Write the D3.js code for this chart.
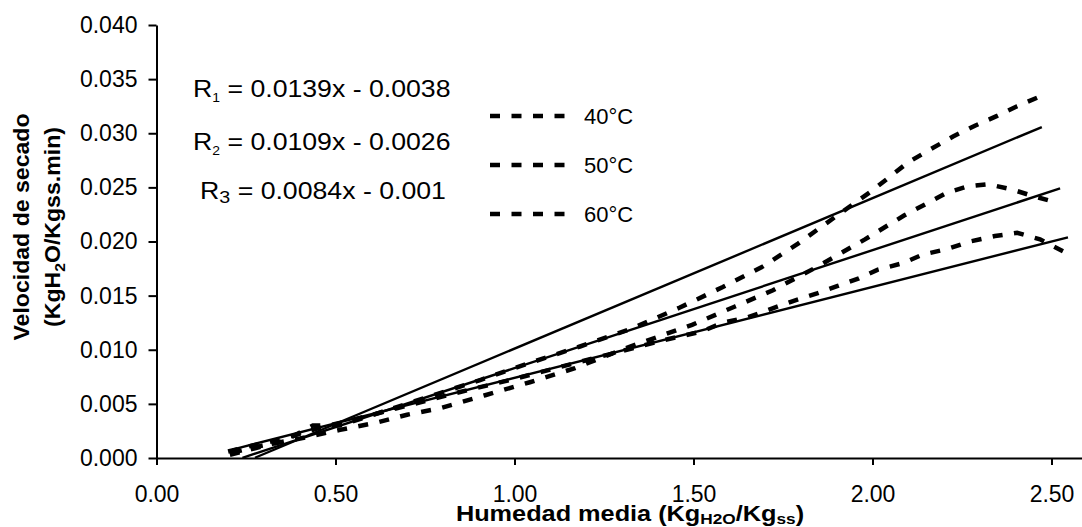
<!DOCTYPE html>
<html>
<head>
<meta charset="utf-8">
<script src="https://cdn.jsdelivr.net/npm/d3@7"></script>
<style>
  body { margin: 0; background: #fff; }
  svg { display: block; font-family: "Liberation Sans", Arial, sans-serif; }
  .axis path, .axis line { stroke: #000; stroke-width: 2; }
  .axis text { font-size: 23px; fill: #000; }
</style>
</head>
<body>
<svg id="chart" width="1082" height="527"></svg>
<script>
// x ticks / y ticks
const xTicks = [0, 0.5, 1.0, 1.5, 2.0, 2.5];
const yTicks = [0, 0.005, 0.01, 0.015, 0.02, 0.025, 0.03, 0.035, 0.04];

// measured drying rate, [humedad media, velocidad]
const serie40 = [
  [0.205, 0.0003], [0.275, 0.0009], [0.359, 0.0016], [0.437, 0.0030], [0.513, 0.0030],
  [0.624, 0.0042], [0.764, 0.0057], [0.904, 0.0072], [1.044, 0.0088], [1.183, 0.0103],
  [1.323, 0.0119], [1.462, 0.0139], [1.582, 0.0158], [1.694, 0.0177], [1.792, 0.0198],
  [1.901, 0.0224], [1.999, 0.0247], [2.099, 0.0273], [2.161, 0.0285], [2.225, 0.0297],
  [2.286, 0.0307], [2.348, 0.0316], [2.404, 0.0325], [2.482, 0.0336]
];
const serie50 = [
  [0.211, 0.0005], [0.289, 0.0011], [0.401, 0.0018], [0.513, 0.0026], [0.619, 0.0033],
  [0.700, 0.0040], [0.792, 0.0046], [0.918, 0.0058], [1.043, 0.0070], [1.169, 0.0083],
  [1.323, 0.0103], [1.496, 0.0123], [1.616, 0.0140], [1.722, 0.0155], [1.842, 0.0176],
  [1.979, 0.0202], [2.088, 0.0224], [2.208, 0.0245], [2.267, 0.0251], [2.323, 0.0253],
  [2.390, 0.0248], [2.448, 0.0242], [2.515, 0.0236]
];
const serie60 = [
  [0.200, 0.0006], [0.261, 0.0011], [0.345, 0.0017], [0.457, 0.0028], [0.568, 0.0037],
  [0.708, 0.0049], [0.848, 0.0061], [0.987, 0.0072], [1.127, 0.0084], [1.267, 0.0096],
  [1.406, 0.0108], [1.524, 0.0117], [1.582, 0.0125], [1.652, 0.0130], [1.719, 0.0138],
  [1.778, 0.0145], [1.845, 0.0152], [1.903, 0.0159], [1.962, 0.0166], [2.015, 0.0174],
  [2.085, 0.0180], [2.141, 0.0188], [2.208, 0.0193], [2.272, 0.0200], [2.342, 0.0205],
  [2.404, 0.0208], [2.468, 0.0202], [2.532, 0.0191]
];

// linear fits: slope, intercept, x range of the fit line
const fitSlopes = [0.0139, 0.0109, 0.0084];
const fitIntercepts = [-0.0038, -0.0026, -0.001];
const fitRanges = [[0.275, 2.473], [0.24, 2.524], [0.212, 2.546]];
const fitLabels = ["0.0139x - 0.0038", "0.0109x - 0.0026", "0.0084x - 0.001"];
const legendLabels = ["40°C", "50°C", "60°C"];

const svg = d3.select("#chart");

const x = d3.scaleLinear().domain([0, 2.6]).range([156.5, 156.5 + 2.6 * 358]);
const y = d3.scaleLinear().domain([0, 0.04]).range([458, 25]);

svg.append("g")
  .attr("class", "axis")
  .attr("transform", `translate(0,${y(0)})`)
  .call(d3.axisBottom(x).tickValues(xTicks).tickFormat(d3.format(".2f"))
    .tickSize(7).tickSizeOuter(0).tickPadding(21));

svg.append("g")
  .attr("class", "axis")
  .attr("transform", `translate(${x(0)},0)`)
  .call(d3.axisLeft(y).tickValues(yTicks).tickFormat(d3.format(".3f"))
    .tickSize(8).tickSizeOuter(0).tickPadding(11));

svg.selectAll(".axis .domain").attr("stroke-width", 2.2);

// regression lines
const lineGen = d3.line().x(d => x(d[0])).y(d => y(d[1]));
fitSlopes.forEach((m, i) => {
  const pts = fitRanges[i].map(v => [v, m * v + fitIntercepts[i]]);
  svg.append("path")
    .attr("d", lineGen(pts))
    .attr("fill", "none")
    .attr("stroke", "#000")
    .attr("stroke-width", 2.4);
});

// measured series
[serie40, serie50, serie60].forEach(s => {
  svg.append("path")
    .datum(s)
    .attr("d", lineGen)
    .attr("fill", "none")
    .attr("stroke", "#000")
    .attr("stroke-width", 4.5)
    .attr("stroke-dasharray", "10,11.5");
});

// equations (scan is a bit stretched horizontally)
const eqPos = [[193, 97], [193, 150], [200, 199]];
fitLabels.forEach((t, i) => {
  const txt = svg.append("g")
    .attr("transform", `translate(${eqPos[i][0]},${eqPos[i][1]}) scale(1.16,1)`)
    .append("text")
    .attr("font-size", 23);
  txt.append("tspan").text("R");
  txt.append("tspan").attr("font-size", i === 2 ? 17 : 12).attr("dy", i === 2 ? 4 : 5).text(i + 1);
  txt.append("tspan").attr("dy", i === 2 ? -4 : -5).text(" = " + t);
});

// legend
const legY = [116, 165, 214];
legendLabels.forEach((t, i) => {
  svg.append("line")
    .attr("x1", 490).attr("x2", 566)
    .attr("y1", legY[i]).attr("y2", legY[i])
    .attr("stroke", "#000")
    .attr("stroke-width", 4.5)
    .attr("stroke-dasharray", "10,11.5");
  svg.append("text")
    .attr("x", 584)
    .attr("y", legY[i] + 8)
    .attr("font-size", 22)
    .text(t);
});

// x title
const xt = svg.append("g")
  .attr("transform", "translate(630,521) scale(1.15,1)")
  .append("text")
  .attr("text-anchor", "middle")
  .attr("font-size", 22)
  .attr("font-weight", "bold");
xt.append("tspan").text("Humedad media (Kg");
xt.append("tspan").attr("font-size", 15).attr("dy", 3).text("H2O");
xt.append("tspan").attr("dy", -3).text("/Kg");
xt.append("tspan").attr("font-size", 15).attr("dy", 3).text("ss");
xt.append("tspan").attr("dy", -3).text(")");

// y title
const yt = svg.append("g").attr("transform", "translate(29,227) rotate(-90) scale(1.05,1)");
yt.append("text")
  .attr("text-anchor", "middle")
  .attr("font-size", 22)
  .attr("font-weight", "bold")
  .text("Velocidad de secado");
const yt2 = yt.append("text")
  .attr("y", 31)
  .attr("text-anchor", "middle")
  .attr("font-size", 22)
  .attr("font-weight", "bold");
yt2.append("tspan").text("(KgH");
yt2.append("tspan").attr("font-size", 15).attr("dy", 5).text("2");
yt2.append("tspan").attr("dy", -5).text("O/Kgss.min)");
</script>
</body>
</html>
